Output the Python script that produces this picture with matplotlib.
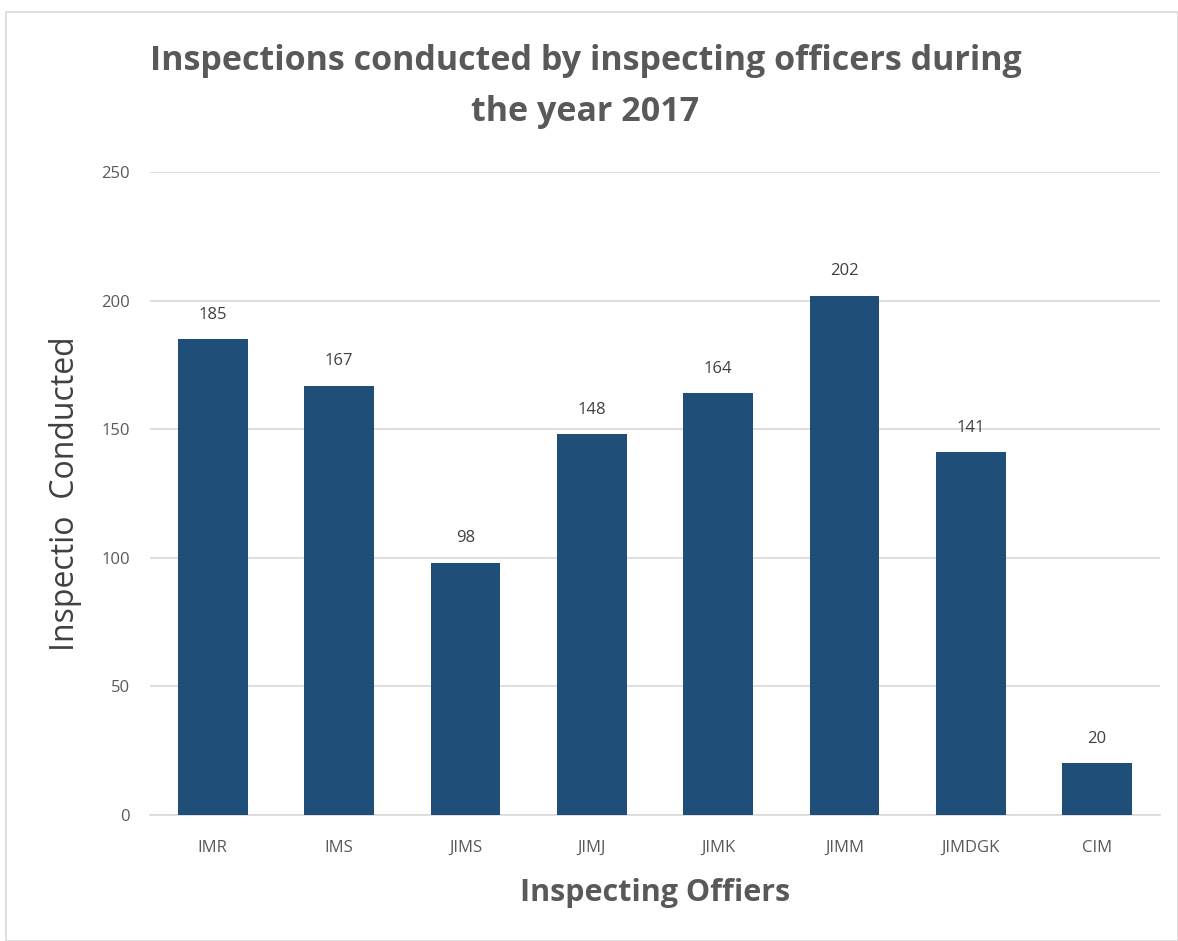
import matplotlib.pyplot as plt
from matplotlib.patches import Rectangle

officers = ['IMR', 'IMS', 'JIMS', 'JIMJ', 'JIMK', 'JIMM', 'JIMDGK', 'CIM']
inspections = [185, 167, 98, 148, 164, 202, 141, 20]

plt.rcParams['font.family'] = ['Open Sans', 'DejaVu Sans']
grey = '#595959'

fig = plt.figure(figsize=(11.78, 9.41), dpi=100)
ax = fig.add_axes([0.127, 0.134, 0.858, 0.683])

x = range(len(officers))
bars = ax.bar(x, inspections, width=0.55, color='#1F4E79', zorder=3)

for b, v in zip(bars, inspections):
    ax.annotate(str(v), (b.get_x() + b.get_width() / 2, v), xytext=(0, 12),
                textcoords='offset points', ha='center', va='bottom',
                fontsize=12, color='#404040')

ax.set_xlim(-0.5, len(officers) - 0.5)
ax.set_ylim(0, 250)
ax.set_yticks(range(0, 251, 50))
ax.set_xticks(list(x))
ax.set_xticklabels(officers)
ax.tick_params(axis='both', length=0, labelsize=12, labelcolor=grey, pad=14)
ax.tick_params(axis='x', pad=18)
ax.yaxis.grid(True, color='#D9D9D9', lw=1.2, zorder=0)
for s in ['top', 'right', 'left']:
    ax.spines[s].set_visible(False)
ax.spines['bottom'].set_color('#D9D9D9')
ax.spines['bottom'].set_linewidth(1.2)

ax.set_ylabel('Inspectio  Conducted', fontsize=23, color='#404040', labelpad=14)
ax.set_xlabel('Inspecting Offiers', fontsize=22, fontweight='bold', color=grey, labelpad=16)

fig.text(0.497, 0.908, 'Inspections conducted by inspecting officers during\nthe year 2017',
         ha='center', va='center', fontsize=24.5, fontweight='bold', color=grey,
         linespacing=1.68)

fig.patches.append(Rectangle((0.005, 0.0), 0.995, 0.987, transform=fig.transFigure,
                             fill=False, edgecolor='#D9D9D9', lw=1.2))

fig.savefig('out.png', dpi=100)
